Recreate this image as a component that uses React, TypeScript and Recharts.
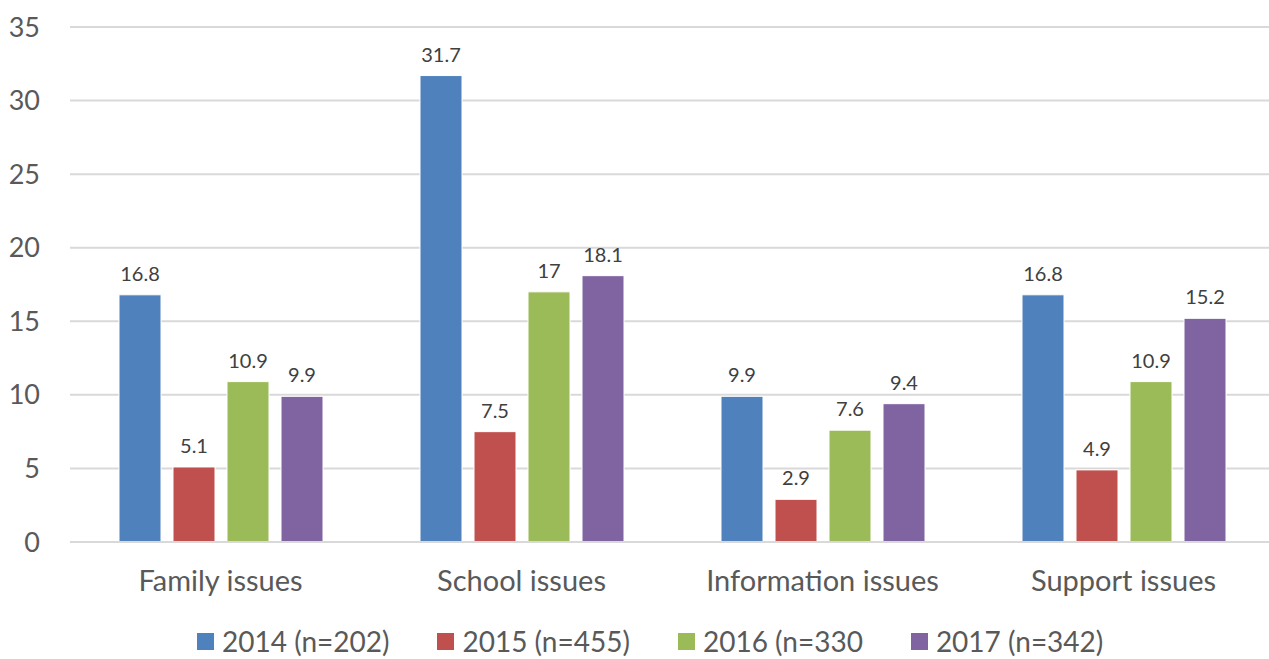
import { BarChart, Bar, XAxis, YAxis, CartesianGrid, LabelList } from "recharts";

const categories = ["Family issues", "School issues", "Information issues", "Support issues"];
const s2014 = [16.8, 31.7, 9.9, 16.8];
const s2015 = [5.1, 7.5, 2.9, 4.9];
const s2016 = [10.9, 17, 7.6, 10.9];
const s2017 = [9.9, 18.1, 9.4, 15.2];
const yTicks = [0, 5, 10, 15, 20, 25, 30, 35];

const series = [
  { key: "y2014", name: "2014 (n=202)", color: "#4f81bd" },
  { key: "y2015", name: "2015 (n=455)", color: "#c0504d" },
  { key: "y2016", name: "2016 (n=330", color: "#9bbb59" },
  { key: "y2017", name: "2017 (n=342)", color: "#8064a2" },
];

const data = categories.map((c, i) => ({
  name: c,
  y2014: s2014[i],
  y2015: s2015[i],
  y2016: s2016[i],
  y2017: s2017[i],
}));

const FONT = "Lato, 'Open Sans', sans-serif";

export default function App() {
  return (
    <div style={{ position: "absolute", left: 0, top: 0, width: 1269, height: 659, overflow: "hidden", background: "#fff" }}>
      <BarChart
        width={1274}
        height={659}
        data={data}
        margin={{ top: 27, right: 0, left: 0, bottom: 87 }}
        barGap={12}
      >
        <CartesianGrid vertical={false} stroke="#d9d9d9" strokeWidth={2} />
        <XAxis
          dataKey="name"
          height={30}
          axisLine={{ stroke: "#d9d9d9", strokeWidth: 2 }}
          tickLine={false}
          tickSize={0}
          tickMargin={28}
          tick={{ fill: "#595959", fontSize: 29, fontFamily: FONT }}
        />
        <YAxis
          width={70}
          domain={[0, 35]}
          ticks={yTicks}
          axisLine={false}
          tickLine={false}
          tickSize={0}
          tickMargin={30}
          tick={{ fill: "#595959", fontSize: 27, fontFamily: FONT }}
        />
        {series.map((s) => (
          <Bar key={s.key} dataKey={s.key} name={s.name} fill={s.color} barSize={42} stroke="#fff" strokeWidth={1} isAnimationActive={false}>
            <LabelList dataKey={s.key} position="top" offset={14} fill="#404040" fontSize={20} fontFamily={FONT} />
          </Bar>
        ))}
      </BarChart>
      {/* legend, laid out like the Excel one */}
      <div style={{ position: "absolute", left: 197, top: 627, display: "flex", alignItems: "center", fontFamily: FONT, fontSize: 28, lineHeight: "28px", color: "#595959", whiteSpace: "nowrap" }}>
        {series.map((s) => (
          <span key={s.key} style={{ display: "flex", alignItems: "center", marginRight: 48 }}>
            <span style={{ width: 17, height: 17, background: s.color, display: "inline-block", marginRight: 8 }} />
            {s.name}
          </span>
        ))}
      </div>
    </div>
  );
}
